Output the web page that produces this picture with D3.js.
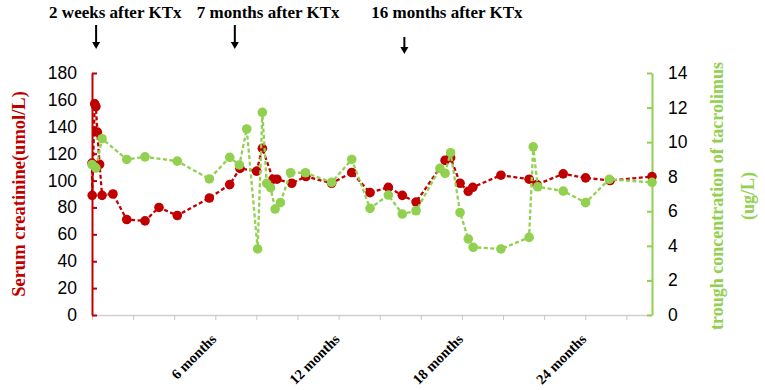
<!DOCTYPE html>
<html>
<head>
<meta charset="utf-8">
<script src="https://cdn.jsdelivr.net/npm/d3@7"></script>
<style>
  body { margin: 0; background: #fff; }
  .serif { font-family: "Liberation Serif", "Times New Roman", serif; font-weight: bold; }
  .num { font-family: "Liberation Sans", Arial, sans-serif; font-size: 17.5px; fill: #000; }
</style>
</head>
<body>
<div id="wrapper"></div>
<script>
// DATA
const creatMonths = [0.00, 0.01, 0.13, 0.19, 0.26, 0.37, 0.49, 1.02, 1.69, 2.58, 3.26, 4.15, 5.71, 6.70, 7.20, 8.01, 8.29, 8.81, 9.00, 9.72, 10.41, 11.66, 12.64, 13.53, 14.42, 15.10, 15.77, 17.18, 17.45, 17.91, 18.31, 18.53, 19.90, 21.27, 21.65, 22.93, 24.02, 25.21, 27.25]
const creatValues = [113, 89, 157, 155, 136, 112, 89, 90, 71, 70, 80, 74, 87, 97, 109, 107, 124, 101, 101, 98, 103, 98, 106, 91, 95, 89, 84, 115, 117, 98, 92, 95, 104, 101, 97, 105, 102, 100, 103]

const tacMonths = [0.00, 0.19, 0.49, 1.69, 2.58, 4.15, 5.71, 6.70, 7.17, 7.53, 8.06, 8.29, 8.50, 8.69, 8.91, 9.17, 9.66, 10.39, 11.66, 12.64, 13.53, 14.42, 15.10, 15.77, 16.93, 17.18, 17.45, 17.91, 18.31, 18.55, 19.90, 21.27, 21.47, 21.69, 22.93, 24.02, 25.17, 27.25]
const tacValues = [8.7, 8.5, 10.2, 9.0, 9.15, 8.9, 7.87, 9.12, 8.68, 10.76, 3.82, 11.72, 7.62, 7.37, 6.13, 6.5, 8.23, 8.23, 7.67, 9.0, 6.17, 6.94, 5.84, 6.03, 8.48, 8.2, 9.39, 5.93, 4.4, 3.92, 3.82, 4.49, 9.73, 7.42, 7.17, 6.5, 7.85, 7.67]

const xTickMonths = [0, 2, 4, 6, 8, 10, 12, 14, 16, 18, 20, 22, 24, 26]
const xTickLabels = {6: "6 months", 12: "12 months", 18: "18 months", 24: "24 months"}
const leftTicks = [0, 20, 40, 60, 80, 100, 120, 140, 160, 180]
const rightTicks = [0, 2, 4, 6, 8, 10, 12, 14]

const noteMonths = [0.2, 6.95, 15.2]
const noteLabels = ["2 weeks after KTx", "7 months after KTx", "16 months after KTx"]

// COLOURS
const red = "#C00000"
const green = "#92D050"

// DIMENSIONS
const width = 765, height = 390
const plot = { left: 92, right: 652, top: 73, bottom: 315 }

const svg = d3.select('#wrapper')
    .append('svg')
    .attr('width', width)
    .attr('height', height)

const x = d3.scaleLinear().domain([0, 27.25]).range([plot.left, plot.right])
const yL = d3.scaleLinear().domain([0, 180]).range([plot.bottom, plot.top])
const yR = d3.scaleLinear().domain([0, 14]).range([plot.bottom, plot.top])

// x axis (grey, ticks below)
const xAxis = svg.append('g')
    .attr('transform', `translate(0,${plot.bottom})`)
    .call(d3.axisBottom(x).tickValues(xTickMonths).tickSize(5).tickSizeOuter(0).tickFormat(''))
xAxis.select('.domain').attr('stroke', '#d0d0d0').attr('stroke-width', 1.5)
xAxis.selectAll('.tick line').attr('stroke', '#c8c8c8').attr('stroke-width', 1)

svg.append('g')
    .selectAll('text')
    .data(xTickMonths.filter(d => xTickLabels[d]))
    .enter().append('text')
    .attr('class', 'serif')
    .attr('font-size', 14.5)
    .attr('text-anchor', 'end')
    .attr('transform', d => `translate(${x(d) + 2},${plot.bottom + 25}) rotate(-45)`)
    .text(d => xTickLabels[d])

// left axis (ticks inward)
const leftAxis = svg.append('g')
    .attr('transform', `translate(${plot.left},0)`)
    .call(d3.axisRight(yL).tickValues(leftTicks).tickSize(5).tickSizeOuter(0).tickFormat(''))
leftAxis.select('.domain').attr('stroke', red).attr('stroke-width', 2)
leftAxis.selectAll('.tick line').attr('stroke', red).attr('stroke-width', 2)

svg.append('g')
    .selectAll('text')
    .data(leftTicks)
    .enter().append('text')
    .attr('class', 'num')
    .attr('text-anchor', 'end')
    .attr('x', 77)
    .attr('y', d => yL(d) + 6)
    .text(d => d)

// right axis (ticks inward)
const rightAxis = svg.append('g')
    .attr('transform', `translate(${plot.right},0)`)
    .call(d3.axisLeft(yR).tickValues(rightTicks).tickSize(5).tickSizeOuter(0).tickFormat(''))
rightAxis.select('.domain').attr('stroke', green).attr('stroke-width', 2)
rightAxis.selectAll('.tick line').attr('stroke', green).attr('stroke-width', 2)

svg.append('g')
    .selectAll('text')
    .data(rightTicks)
    .enter().append('text')
    .attr('class', 'num')
    .attr('x', 668)
    .attr('y', d => yR(d) + 6)
    .text(d => d)

// axis titles
svg.append('text')
    .attr('class', 'serif')
    .attr('font-size', 18.5)
    .attr('fill', red)
    .attr('text-anchor', 'middle')
    .attr('transform', `translate(25,${(plot.top + plot.bottom) / 2}) rotate(-90)`)
    .text('Serum creatinine(umol/L)')

const rightTitle = svg.append('text')
    .attr('class', 'serif')
    .attr('font-size', 18)
    .attr('fill', green)
    .attr('text-anchor', 'middle')
    .attr('transform', `translate(723,${(plot.top + plot.bottom) / 2 + 2}) rotate(-90)`)
rightTitle.append('tspan').attr('x', 0).attr('y', 0).text('trough concentration of tacrolimus')
rightTitle.append('tspan').attr('x', 0).attr('y', 31).text('(ug/L)')

// series
function drawSeries(months, values, yScale, color) {
    const pts = months.map((m, i) => [m, values[i]])
    const line = d3.line().x(d => x(d[0])).y(d => yScale(d[1]))
    svg.append('path')
        .attr('d', line(pts))
        .attr('fill', 'none')
        .attr('stroke', color)
        .attr('stroke-width', 2.3)
        .attr('stroke-dasharray', '4,2.5')
    svg.append('g')
        .selectAll('circle')
        .data(pts)
        .enter().append('circle')
        .attr('cx', d => x(d[0]))
        .attr('cy', d => yScale(d[1]))
        .attr('r', 4.8)
        .attr('fill', color)
}
drawSeries(creatMonths, creatValues, yL, red)
drawSeries(tacMonths, tacValues, yR, green)

// annotations with arrows
const noteTextDx = [-47, -38, -33]
const arrowTop = [25, 25, 37]
const arrowBottom = [49, 49, 54]

const notes = svg.append('g')
noteMonths.forEach((m, i) => {
    const ax = x(m)
    notes.append('text')
        .attr('class', 'serif')
        .attr('font-size', 17)
        .attr('x', ax + noteTextDx[i])
        .attr('y', 18)
        .text(noteLabels[i])
    notes.append('line')
        .attr('x1', ax).attr('x2', ax)
        .attr('y1', arrowTop[i]).attr('y2', arrowBottom[i] - 6)
        .attr('stroke', '#000')
        .attr('stroke-width', 2)
    notes.append('path')
        .attr('d', `M${ax - 4},${arrowBottom[i] - 7} L${ax + 4},${arrowBottom[i] - 7} L${ax},${arrowBottom[i]} Z`)
        .attr('fill', '#000')
})
</script>
</body>
</html>
